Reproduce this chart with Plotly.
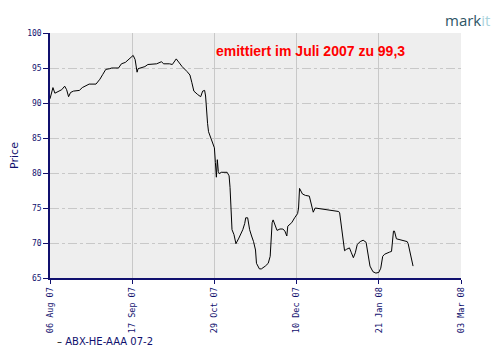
import plotly.graph_objects as go

dates = [
    "2007-08-06", "2007-08-07 12:00", "2007-08-08 12:00", "2007-08-10", "2007-08-12",
    "2007-08-13 12:00", "2007-08-14 12:00", "2007-08-15 12:00", "2007-08-16 12:00", "2007-08-18",
    "2007-08-21", "2007-08-22 12:00", "2007-08-24 12:00", "2007-08-26", "2007-08-29 12:00",
    "2007-08-31 12:00", "2007-09-02", "2007-09-03 12:00", "2007-09-05 12:00", "2007-09-06 12:00",
    "2007-09-10", "2007-09-11 12:00", "2007-09-13 12:00", "2007-09-15 12:00", "2007-09-17 12:00",
    "2007-09-18 12:00", "2007-09-19", "2007-09-19 12:00", "2007-09-20", "2007-09-22",
    "2007-09-23 12:00", "2007-09-25", "2007-09-29 12:00", "2007-10-02", "2007-10-03",
    "2007-10-06", "2007-10-07 12:00", "2007-10-09 12:00", "2007-10-10 12:00", "2007-10-12 12:00",
    "2007-10-15", "2007-10-16 12:00", "2007-10-17 12:00", "2007-10-18 12:00", "2007-10-20 12:00",
    "2007-10-22", "2007-10-23", "2007-10-24", "2007-10-24 12:00", "2007-10-25",
    "2007-10-25 12:00", "2007-10-26", "2007-10-27 12:00", "2007-10-28 12:00", "2007-10-29",
    "2007-10-29 12:00", "2007-10-30", "2007-10-30 12:00", "2007-10-31", "2007-10-31 12:00",
    "2007-11-01 12:00", "2007-11-04 12:00", "2007-11-05 12:00", "2007-11-06", "2007-11-06 12:00",
    "2007-11-07", "2007-11-08", "2007-11-09", "2007-11-10 12:00", "2007-11-12 12:00",
    "2007-11-13 12:00", "2007-11-14", "2007-11-15", "2007-11-16", "2007-11-17",
    "2007-11-18", "2007-11-19", "2007-11-19 12:00", "2007-11-21", "2007-11-22",
    "2007-11-24", "2007-11-25 12:00", "2007-11-26 12:00", "2007-11-27", "2007-11-27 12:00",
    "2007-11-28", "2007-11-29", "2007-11-30", "2007-12-01 12:00", "2007-12-03",
    "2007-12-04", "2007-12-05", "2007-12-05 12:00", "2007-12-07 12:00", "2007-12-09",
    "2007-12-10 12:00", "2007-12-11", "2007-12-11 12:00", "2007-12-13", "2007-12-14 12:00",
    "2007-12-16 12:00", "2007-12-17 12:00", "2007-12-18 12:00", "2007-12-19 12:00", "2007-12-21 12:00",
    "2007-12-23 12:00", "2007-12-26 12:00", "2007-12-31 12:00", "2008-01-01", "2008-01-02",
    "2008-01-03", "2008-01-03 12:00", "2008-01-04 12:00", "2008-01-06", "2008-01-07",
    "2008-01-08", "2008-01-09", "2008-01-10", "2008-01-11 12:00", "2008-01-13",
    "2008-01-14 12:00", "2008-01-15", "2008-01-15 12:00", "2008-01-16 12:00", "2008-01-18",
    "2008-01-19 12:00", "2008-01-21", "2008-01-22", "2008-01-23", "2008-01-24",
    "2008-01-26 12:00", "2008-01-27 12:00", "2008-01-28 12:00", "2008-01-29", "2008-01-30",
    "2008-01-31 12:00", "2008-02-02 12:00", "2008-02-04 12:00", "2008-02-05", "2008-02-06",
    "2008-02-07", "2008-02-07 12:00",
]

prices = [
    90.6, 92.2, 91.4, 91.6, 91.9,
    92.4, 91.9, 90.9, 91.5, 91.7,
    91.8, 92.2, 92.5, 92.7, 92.7,
    93.4, 94.1, 94.8, 94.9, 95.0,
    95.0, 95.6, 95.8, 96.3, 96.8,
    96.2, 95.5, 94.4, 94.9, 95.1,
    95.2, 95.5, 95.6, 95.9, 95.6,
    95.6, 95.5, 96.3, 95.9, 95.2,
    94.5, 94.0, 92.9, 91.7, 91.2,
    90.9, 91.7, 91.8, 91.0, 88.6,
    87.1, 85.9, 84.8, 83.8, 83.6,
    81.5, 79.4, 81.9, 80.2, 79.9,
    80.1, 80.1, 79.6, 77.9, 73.8,
    71.9, 71.2, 69.9, 70.7, 71.9,
    72.8, 73.6, 73.6, 71.9, 71.0,
    70.2, 69.0, 67.1, 66.3, 66.3,
    66.7, 67.1, 68.1, 70.5, 72.9,
    73.3, 72.5, 71.8, 72.0, 72.0,
    71.7, 71.0, 72.4, 72.9, 73.6,
    74.2, 75.0, 77.8, 77.0, 76.8,
    76.7, 75.5, 74.4, 75.0, 74.9,
    74.8, 74.7, 74.5, 74.3, 71.9,
    69.9, 68.9, 69.1, 69.3, 68.6,
    67.9, 68.6, 69.8, 70.2, 70.4,
    70.1, 69.3, 68.1, 66.7, 65.9,
    65.7, 65.8, 66.4, 68.1, 68.4,
    68.7, 68.8, 71.7, 71.7, 70.6,
    70.5, 70.4, 70.2, 69.9, 68.6,
    67.1, 66.7,
]

tick_dates = ["2007-08-06", "2007-09-17", "2007-10-29", "2007-12-10", "2008-01-21", "2008-03-03"]
tick_labels = ["06 Aug 07", "17 Sep 07", "29 Oct 07", "10 Dec 07", "21 Jan 08", "03 Mar 08"]
y_ticks = [65, 70, 75, 80, 85, 90, 95, 100]

series_name = "ABX-HE-AAA 07-2"
note = "emittiert im Juli 2007 zu 99,3"

NAVY = "#10106e"
GRID = "#c8c8c8"

fig = go.Figure()
fig.add_trace(go.Scatter(
    x=dates, y=prices, mode="lines",
    line=dict(color="black", width=1),
    name=series_name, showlegend=False,
))

fig.update_layout(
    width=500, height=360,
    margin=dict(l=42, r=47, t=25, b=90),
    paper_bgcolor="white",
    plot_bgcolor="#eeeeee",
    font=dict(family="DejaVu Sans Mono", size=8, color=NAVY),
)

fig.update_xaxes(
    range=["2007-08-06", "2008-03-03"],
    tickvals=tick_dates, ticktext=tick_labels,
    tickangle=-90,
    ticks="outside", ticklen=4, tickcolor=NAVY, tickwidth=1,
    tickfont=dict(family="DejaVu Sans Mono", size=8.5, color=NAVY),
    showline=True, linecolor=NAVY, linewidth=1.5,
    showgrid=True, gridcolor=GRID, gridwidth=1,
    zeroline=False, automargin=False,
)
fig.update_yaxes(
    range=[65, 100],
    tickvals=y_ticks,
    ticks="outside", ticklen=5, tickcolor=NAVY, tickwidth=1,
    tickfont=dict(family="DejaVu Sans Mono", size=8, color=NAVY),
    showline=True, linecolor=NAVY, linewidth=1.5,
    showgrid=True, gridcolor=GRID, gridwidth=1, griddash="dashdot",
    zeroline=False, automargin=False,
    title=dict(text="Price", font=dict(family="DejaVu Sans", size=11, color=NAVY), standoff=10),
)

fig.add_annotation(
    xref="paper", yref="paper", x=0.635, y=0.926, yanchor="middle",
    text=note, showarrow=False,
    font=dict(family="Liberation Sans", size=14, color="red", weight="bold"),
)

fig.add_annotation(
    xref="paper", yref="paper", x=0.012, y=-0.261, xanchor="left", yanchor="middle",
    text="<span style='color:black'>–</span> " + series_name, showarrow=False,
    font=dict(family="DejaVu Sans", size=10, color=NAVY),
)

fig.add_annotation(
    xref="paper", yref="paper", x=1.075, y=1.053, xanchor="right", yanchor="middle",
    text="<span style='color:#2e5565'>mark</span><span style='color:#a9d3dc'>it</span>",
    showarrow=False,
    font=dict(family="Open Sans", size=15),
)

fig.write_html("out.html")
